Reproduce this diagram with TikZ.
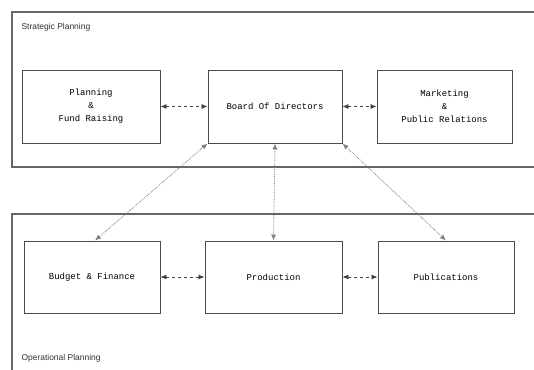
\documentclass[tikz,border=0pt]{standalone}
\usepackage{fontspec}
\setmainfont{Liberation Sans}
\newfontfamily\boxfont{Liberation Mono}
\usetikzlibrary{arrows.meta}
\begin{document}
\begin{tikzpicture}[x=1bp,y=-1bp,
  group/.style={draw=black!60, line width=1.2pt},
  unit/.style={draw=black!70, line width=1pt, fill=white, align=center,
    font=\boxfont\fontsize{9}{13}\selectfont, inner sep=0pt},
  grouptitle/.style={anchor=west, font=\fontsize{8.5}{9}\selectfont, text=black!80},
  link/.style={dashed, line width=0.8pt, {Latex[length=6pt,width=5pt]}-{Latex[length=6pt,width=5pt]}, black!75},
  diag/.style={black!50, densely dotted, line width=0.8pt, {Latex[length=6pt,width=5pt]}-{Latex[length=6pt,width=5pt]}}]
\useasboundingbox (0,0) rectangle (534,369);
\fill[white] (0,0) rectangle (534,369);
% group frames
\draw[group] (538,12) -- (12,12) -- (12,167) -- (538,167);
\draw[group] (538,214) -- (12,214) -- (12,373);
\node[grouptitle] (tS) at (18,27) {Strategic Planning};
\node[grouptitle] (tO) at (18,358) {Operational Planning};
% top row
\node[unit, minimum width=138bp, minimum height=73bp] (pf) at (91,106.5) {Planning\\\&\\Fund Raising};
\node[unit, minimum width=134bp, minimum height=73bp] (bd) at (275,106.5) {Board Of Directors};
\node[unit, minimum width=135bp, minimum height=73bp] (mp) at (444.5,106.5) {Marketing\\\&\\Public Relations};
% bottom row
\node[unit, minimum width=136bp, minimum height=72bp] (bf) at (92,277) {Budget \& Finance};
\node[unit, minimum width=137bp, minimum height=72bp] (pr) at (273.5,277) {Production};
\node[unit, minimum width=136bp, minimum height=72bp] (pu) at (446,277) {Publications};
% links
\draw[link] (pf) -- (bd);
\draw[link] (bd) -- (mp);
\draw[link] (bf) -- (pr);
\draw[link] (pr) -- (pu);
\draw[diag] (bd.south west) -- ([xshift=3bp]bf.north);
\draw[diag] (bd.south) -- (pr.north);
\draw[diag] (bd.south east) -- (pu.north);
\end{tikzpicture}
\end{document}
